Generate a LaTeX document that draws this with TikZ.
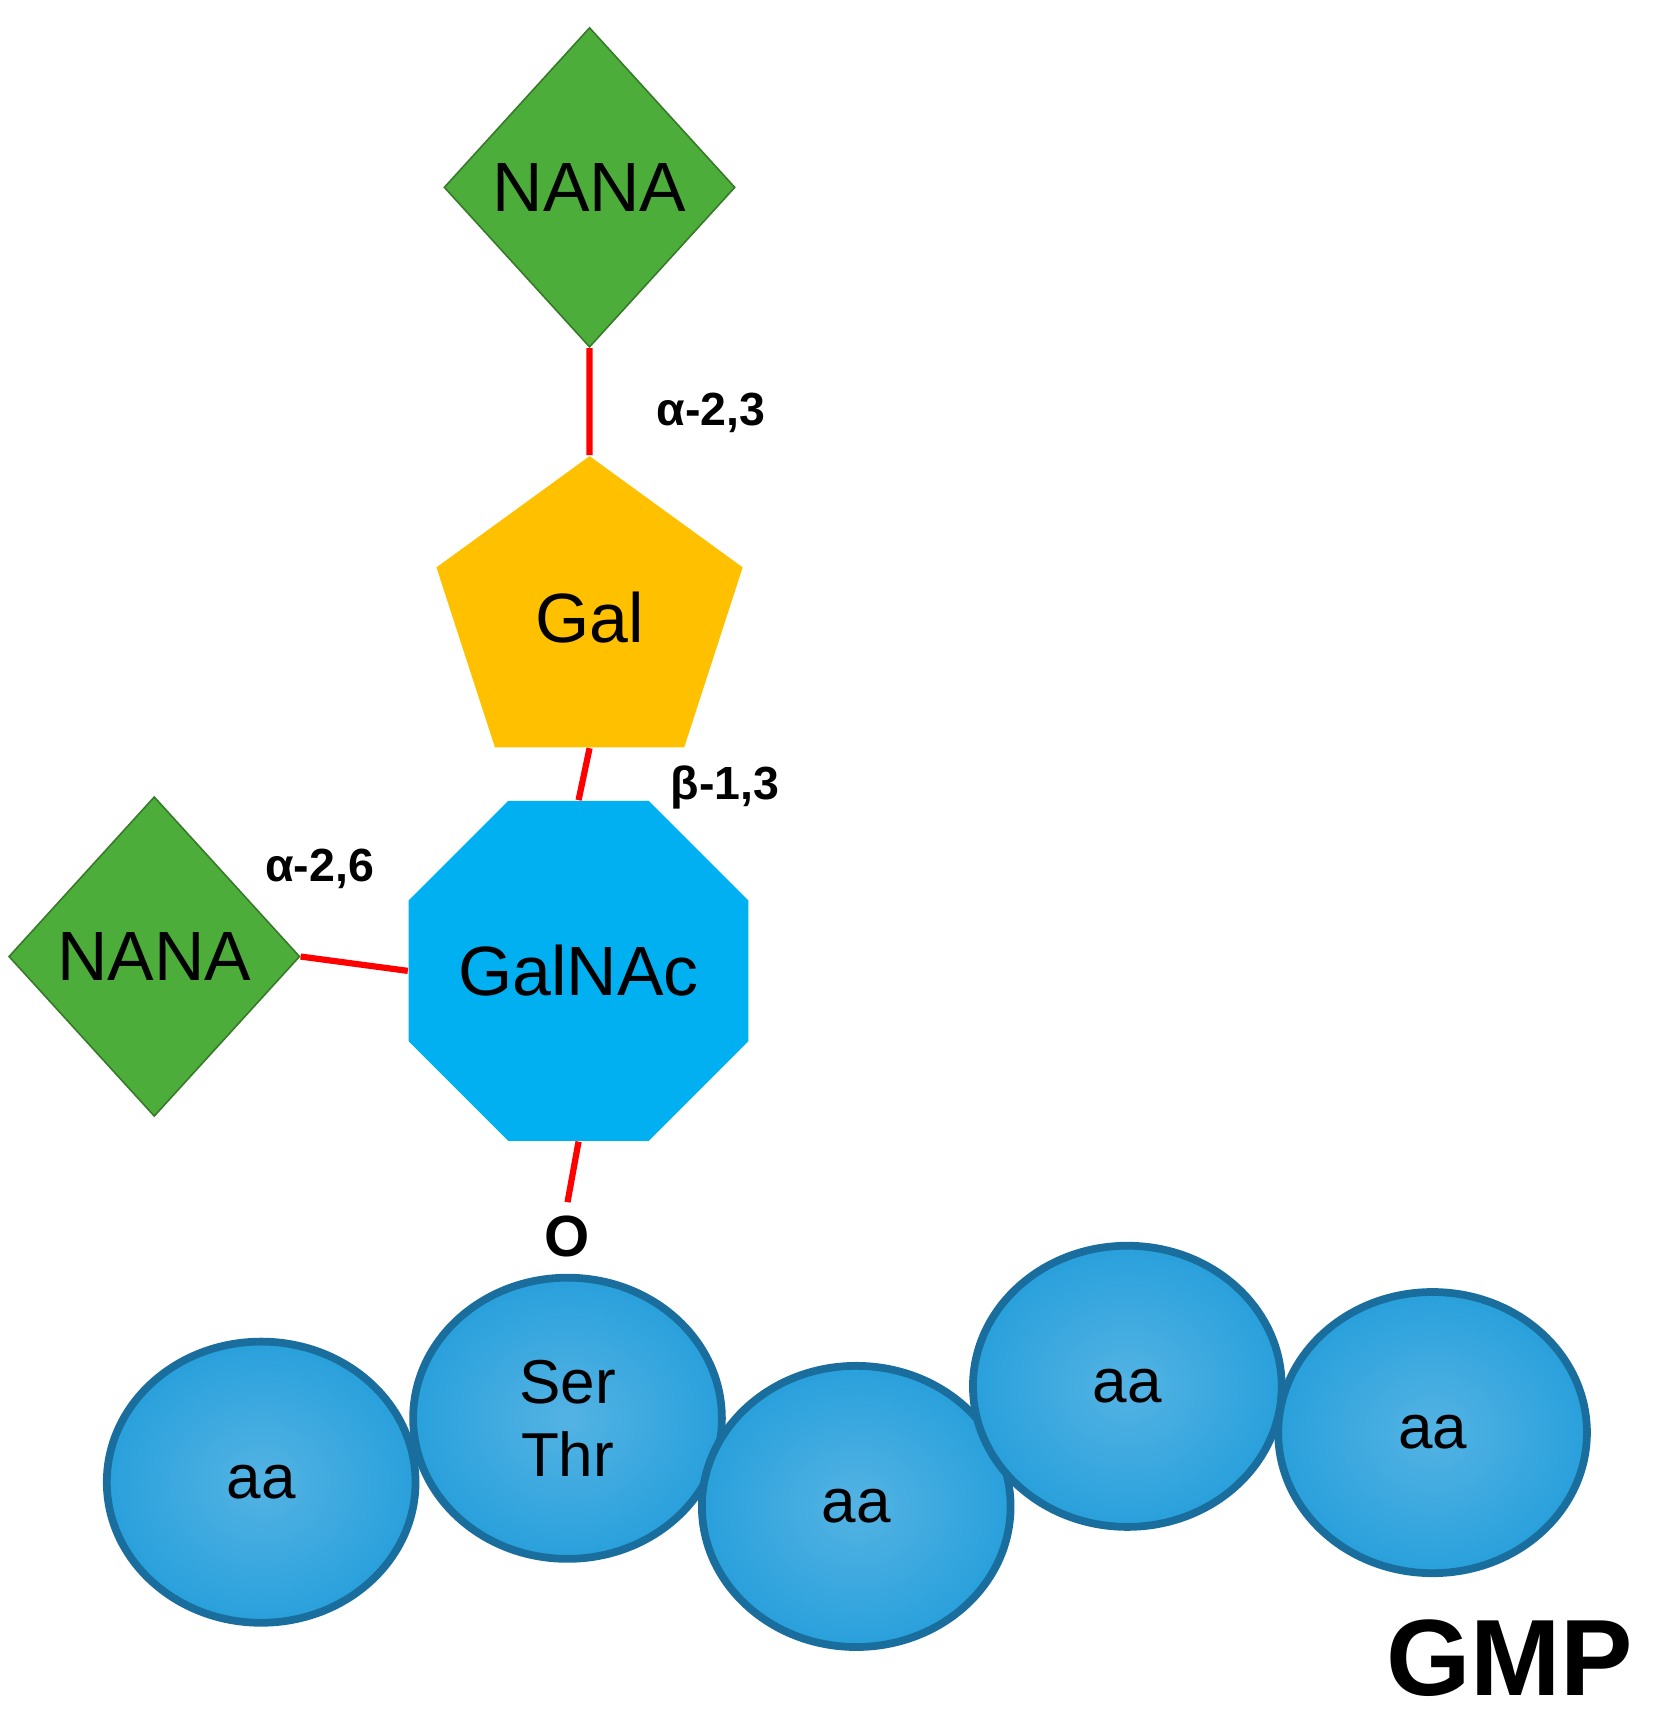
\documentclass[tikz,border=0pt]{standalone}
\usepackage{fontspec}
\setmainfont{Liberation Sans}
\usetikzlibrary{shapes.geometric}
\definecolor{nanagreen}{HTML}{4DAD3A}
\definecolor{galorange}{HTML}{FFC000}
\definecolor{nacblue}{HTML}{00B0F0}
\definecolor{aablue}{HTML}{29A0DC}
\definecolor{aadark}{HTML}{1A6E9E}
\begin{document}
\begin{tikzpicture}[x=0.01cm, y=-0.01cm,
      nana/.style={diamond, fill=nanagreen, draw=nanagreen!70!black, inner sep=0pt, minimum width=2.64cm, minimum height=2.9cm, font=\fontsize{18}{20}\selectfont},
      gal/.style={regular polygon, regular polygon sides=5, fill=galorange, inner sep=0pt, minimum size=2.92cm, font=\fontsize{18}{20}\selectfont},
      galnac/.style={regular polygon, regular polygon sides=8, fill=nacblue, inner sep=0pt, minimum size=3.0cm, font=\fontsize{18}{20}\selectfont},
      aa/.style={ellipse, inner color=aablue!80!white, outer color=aablue, draw=aadark, line width=2pt, minimum width=2.8cm, minimum height=2.55cm, align=center, font=\fontsize{16}{19}\selectfont},
      bond/.style={red, line width=1.6pt},
      link/.style={font=\bfseries\fontsize{12}{14}\selectfont}]
      \useasboundingbox (0,0) rectangle (1500,1559);
            \node[nana] (nana1) at (535,170) {NANA};
            \node[gal] (gal) at (535,560) {Gal};
            \node[galnac] (galnac) at (525,881) {GalNAc};
            \node[nana] (nana2) at (140,868) {NANA};
            \node[font=\bfseries\fontsize{15}{17}\selectfont] (o) at (515,1122) {O};
            \node[aa] (aa1) at (237,1345) {aa};
            \node[aa] (ser) at (515,1287) {Ser\\Thr};
            \node[aa] (aa2) at (777,1367) {aa};
            \node[aa] (aa3) at (1023,1258) {aa};
            \node[aa] (aa4) at (1300,1300) {aa};
            \node[font=\bfseries\fontsize{28}{30}\selectfont] (gmp) at (1370,1505) {GMP};
            \draw[bond] (nana1.south) -- (gal.north);
            \draw[bond] (gal.south) -- (galnac.north);
            \draw[bond] (nana2.east) -- (galnac.west);
            \draw[bond] (galnac.south) -- (o.north);
            \node[link] (l23) at (645,375) {α-2,3};
            \node[link] (l13) at (658,715) {β-1,3};
            \node[link] (l26) at (290,788) {α-2,6};
\end{tikzpicture}
\end{document}
